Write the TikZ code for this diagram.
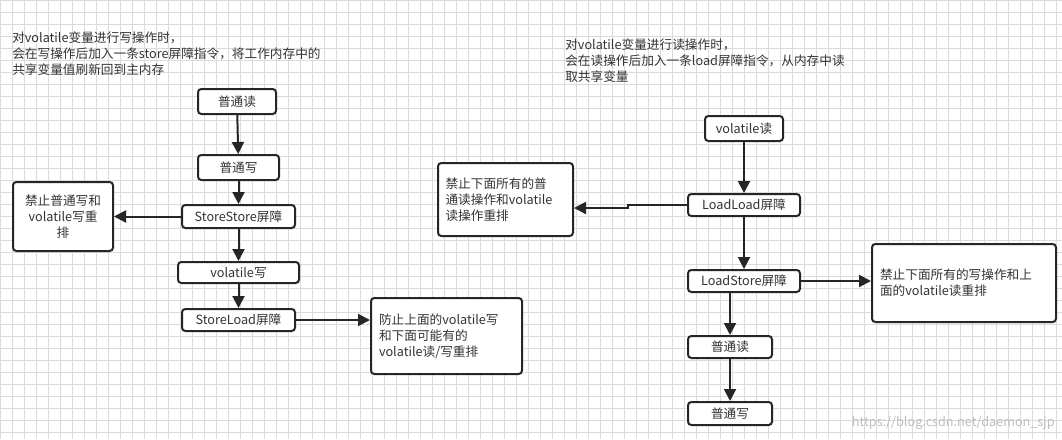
\documentclass[tikz,border=0pt]{standalone}
\usepackage{fontspec}
\setmainfont{Noto Sans CJK SC}
\usetikzlibrary{arrows.meta}
\begin{document}
\begin{tikzpicture}[x=0.75pt,y=-0.75pt,
  box/.style={draw=black!85,line width=1.5pt,rounded corners=2.5pt,fill=white,inner sep=0pt,font=\fontsize{9.5pt}{12pt}\selectfont,text=black!80},
  sz/.style 2 args={minimum width=#1*0.75pt,minimum height=#2*0.75pt},
  arr/.style={draw=black!85,line width=1.5pt,-{Triangle[length=9pt,width=9pt]}},
  gridl/.style={black!14,line width=0.6pt},
  lbl/.style={font=\fontsize{9.5pt}{12pt}\selectfont,text=black!80,align=left,anchor=north west,inner sep=0pt}]
\useasboundingbox (0,0) rectangle (1062,439);
\fill[white] (0,0) rectangle (1062,439);
\foreach \i in {0,12,...,1062} \draw[gridl] (\i,0) -- (\i,439);
\foreach \j in {0,12,...,439} \draw[gridl] (0,\j) -- (1062,\j);
% left
\node[lbl] (t1) at (12,31) {对volatile变量进行写操作时，\\会在写操作后加入一条store屏障指令，将工作内存中的\\共享变量值刷新回到主内存};
\node[box,sz={78}{25}] (a1) at (237,101.5) {普通读};
\node[box,sz={81}{25}] (a2) at (238.5,167.5) {普通写};
\node[box,sz={113}{23}] (a3) at (238.5,216.5) {StoreStore屏障};
\node[box,sz={121}{21}] (a4) at (238.5,272.5) {volatile写};
\node[box,sz={113}{22}] (a5) at (238.5,320) {StoreLoad屏障};
\node[box,sz={100}{69},align=center] (n1) at (63,216.5) {禁止普通写和\\volatile写重\\排};
\node[box,sz={151}{76},text width=135*0.75pt,align=left] (n2) at (446.5,336) {防止上面的volatile写\\和下面可能有的\\volatile读/写重排};
\draw[arr] (a1) -- (a2);
\draw[arr] (a2) -- (a3);
\draw[arr] (a3) -- (a4);
\draw[arr] (a4) -- (a5);
\draw[arr] (a3) -- (n1);
\draw[arr] (a5.east) -- (a5.east -| n2.west);
% right
\node[lbl] (t2) at (565,38) {对volatile变量进行读操作时，\\会在读操作后加入一条load屏障指令，从内存中读\\取共享变量};
\node[box,sz={78}{25}] (b1) at (744,128.5) {volatile读};
\node[box,sz={112}{22}] (b2) at (744,205) {LoadLoad屏障};
\node[box,sz={112}{22}] (b3) at (744,281) {LoadStore屏障};
\node[box,sz={84}{22}] (b4) at (730,347) {普通读};
\node[box,sz={84}{23}] (b5) at (730,413.5) {普通写};
\node[box,sz={135}{73},text width=120*0.75pt,align=left] (m1) at (505.5,199.5) {禁止下面所有的普\\通读操作和volatile\\读操作重排};
\node[box,sz={184}{78},text width=168*0.75pt,align=left] (m2) at (964,283) {禁止下面所有的写操作和上\\面的volatile读重排};
\coordinate (j1) at (628,205);
\coordinate (j2) at (628,208);
\draw[arr] (b1) -- (b2);
\draw[arr] (b2) -- (b3);
\draw[arr] (b3.south -| b4) -- (b4);
\draw[arr] (b4) -- (b5);
\draw[arr] (b2.west) -- (j1) -- (j2) -- (j2 -| m1.east);
\draw[arr] (b3.east) -- (b3.east -| m2.west);
\node[font=\fontsize{9.5pt}{12pt}\selectfont,text=black!25,anchor=east,inner sep=0pt] (wm) at (1055,423) {https://blog.csdn.net/daemon\_sjp};
\end{tikzpicture}
\end{document}
